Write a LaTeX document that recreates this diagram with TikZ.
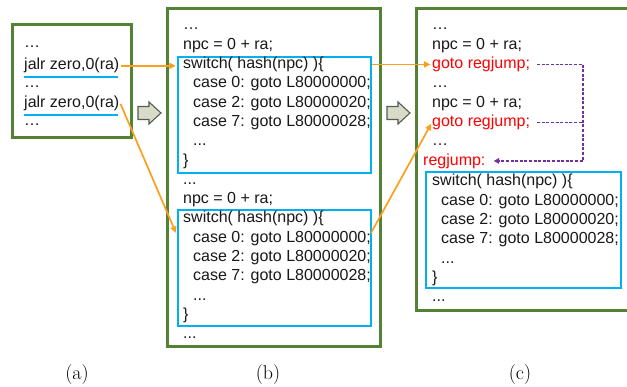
\documentclass[tikz,border=0pt]{standalone}
\usepackage{fontspec}
\newfontfamily\arialf{Liberation Sans}
\usetikzlibrary{arrows.meta,calc}
\definecolor{gboxc}{RGB}{84,130,53}
\definecolor{bboxc}{RGB}{0,176,240}
\definecolor{orangec}{RGB}{250,160,30}
\definecolor{purplec}{RGB}{112,48,160}
\definecolor{garrowfill}{RGB}{218,218,200}
\definecolor{garrowdraw}{RGB}{80,95,80}
\begin{document}
\begin{tikzpicture}[x=1pt,y=-1pt,
  txt/.style={anchor=base west,inner sep=0pt,font=\arialf\fontsize{16}{19}\selectfont,text=black!90},
  redtxt/.style={txt,text=red},
  gbox/.style={draw=gboxc,line width=3pt,inner sep=0pt},
  bbox/.style={draw=bboxc,line width=2.3pt,inner sep=0pt},
  uline/.style={draw=bboxc,line width=2.3pt},
  oarr/.style={draw=orangec,line width=1.7pt,-{Triangle[length=6.5pt,width=6pt]}},
  parr/.style={draw=purplec,line width=1.5pt,dash pattern=on 3pt off 1.6pt},
  garrow/.style={fill=garrowfill,draw=garrowdraw,line width=1.1pt,line join=miter},
  captxt/.style={inner sep=0pt,font=\fontsize{20}{24}\selectfont}]
\useasboundingbox (0,0) rectangle (627,387);
\fill[white] (0,0) rectangle (627,387);

% ---------- boxes ----------
\node[gbox,minimum width=119pt,minimum height=113pt] (A) at (71.5,81.5) {};
\node[gbox,minimum width=213pt,minimum height=338pt] (B) at (273.5,178) {};
\draw[draw=gboxc,line width=3pt] (630,9) -- (416,9) -- (416,311) -- (630,311);
\node[bbox,minimum width=193pt,minimum height=116pt] (b1) at (274.5,115) {};
\node[bbox,minimum width=193pt,minimum height=116pt] (b2) at (274.5,268) {};
\node[bbox,minimum width=195pt,minimum height=116pt] (c1) at (523.5,230) {};

% ---------- (a) ----------
\node[txt] (a1) at (24,47.5) {…};
\node[txt] (aj1) at (24,70) {jalr zero,0(ra)};
\node[txt] (a2) at (24,87.5) {…};
\node[txt] (aj2) at (24,108) {jalr zero,0(ra)};
\node[txt] (a3) at (24,126) {…};
\draw[uline] (24,77) -- (118,77);
\draw[uline] (24,115) -- (118,115);

% ---------- (b) ----------
\node[txt] (bl0) at (183,30) {…};
\node[txt] (bl1) at (183,49.3) {npc = 0 + ra;};
\node[txt] (bl2) at (183,68.6) {switch( hash(npc) )\{};
\node[txt] (bl3) at (193,87.9) {case 0: goto L80000000;};
\node[txt] (bl4) at (193,107.2) {case 2: goto L80000020;};
\node[txt] (bl5) at (193,126.5) {case 7: goto L80000028;};
\node[txt] (bl6) at (193,145.8) {...};
\node[txt] (bl7) at (183,165.1) {\}};
\node[txt] (bl8) at (183,184.4) {...};
\node[txt] (bl9) at (183,203.7) {npc = 0 + ra;};
\node[txt] (bl10) at (183,223) {switch( hash(npc) )\{};
\node[txt] (bl11) at (193,242.3) {case 0: goto L80000000;};
\node[txt] (bl12) at (193,261.6) {case 2: goto L80000020;};
\node[txt] (bl13) at (193,280.9) {case 7: goto L80000028;};
\node[txt] (bl14) at (193,300.2) {...};
\node[txt] (bl15) at (183,319.5) {\}};
\node[txt] (bl16) at (183,338.8) {...};

% ---------- (c) ----------
\node[txt] (cl0) at (432,30) {…};
\node[txt] (cl1) at (432,49.3) {npc = 0 + ra;};
\node[redtxt] (cg1) at (432,68.6) {goto regjump;};
\node[txt] (cl3) at (432,87.9) {…};
\node[txt] (cl4) at (432,107.2) {npc = 0 + ra;};
\node[redtxt] (cg2) at (432,126.5) {goto regjump;};
\node[txt] (cl6) at (432,145.8) {…};
\node[redtxt] (crj) at (423,165.1) {regjump:};
\node[txt] (cl8) at (432,186) {switch( hash(npc) )\{};
\node[txt] (cl9) at (441,205.3) {case 0: goto L80000000;};
\node[txt] (cl10) at (441,224.6) {case 2: goto L80000020;};
\node[txt] (cl11) at (441,243.9) {case 7: goto L80000028;};
\node[txt] (cl12) at (441,263.2) {...};
\node[txt] (cl13) at (432,282.5) {\}};
\node[txt] (cl14) at (432,301.8) {...};

% ---------- gray block arrows ----------
\draw[garrow] (138,106.5) -- (149,106.5) -- (149,102) -- (161,113) -- (149,124) -- (149,119.5) -- (138,119.5) -- cycle;
\draw[garrow] (387,106.5) -- (398,106.5) -- (398,102) -- (410,113) -- (398,124) -- (398,119.5) -- (387,119.5) -- cycle;

% ---------- orange connectors ----------
\coordinate (b2in) at (176,233);
\coordinate (b2out) at (371,233);
\draw[oarr,shorten >=1pt] ($(aj1.east)+(1,0)$) -- (aj1.east -| b1.west);
\draw[oarr] ($(aj2.east)+(1,0)$) -- (b2in);
\draw[oarr,shorten >=1.5pt] (b1.east |- cg1.west) -- (cg1.west);
\draw[oarr,shorten >=1.5pt] (b2out) -- (cg2.west);

% ---------- purple dashed ----------
\coordinate (pv) at (583,0);
\draw[parr,-{Triangle[length=5.5pt,width=5.5pt]}] ($(cg1.east)+(7,0)$) -- (cg1.east -| pv) -- (crj.east -| pv) -- ($(crj.east)+(8,0)$);
\draw[parr] ($(cg2.east)+(7,0)$) -- (cg2.east -| pv);

% ---------- captions ----------
\node[captxt] (capa) at (77,375) {(a)};
\node[captxt] (capb) at (268,375) {(b)};
\node[captxt] (capc) at (520,375) {(c)};
\end{tikzpicture}
\end{document}
